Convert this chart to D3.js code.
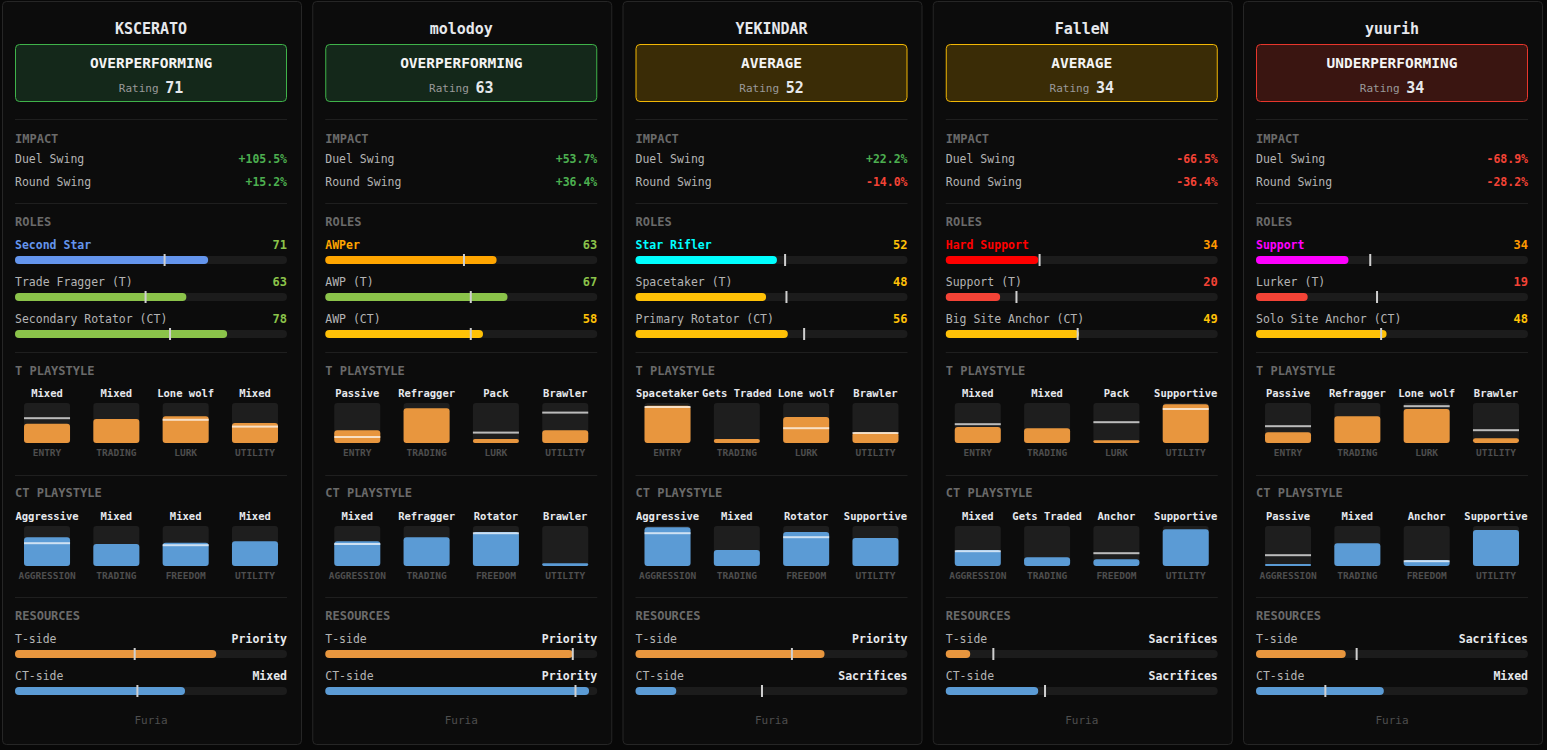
<!DOCTYPE html>
<html>
<head>
<meta charset="utf-8">
<script src="https://cdn.jsdelivr.net/npm/d3@7"></script>
<style>
  body { margin: 0; background: #080808; }
  svg { display: block; font-family: "DejaVu Sans Mono", monospace; }
</style>
</head>
<body>
<svg></svg>
<script>
var players = ["KSCERATO", "molodoy", "YEKINDAR", "FalleN", "yuurih"];
var team = "Furia";
var statuses = ["OVERPERFORMING", "OVERPERFORMING", "AVERAGE", "AVERAGE", "UNDERPERFORMING"];
var ratings = [71, 63, 52, 34, 34];
var duelSwing = [105.5, 53.7, 22.2, -66.5, -68.9];
var roundSwing = [15.2, 36.4, -14.0, -36.4, -28.2];

var roleNames = [
    ["Second Star", "Trade Fragger (T)", "Secondary Rotator (CT)"],
    ["AWPer", "AWP (T)", "AWP (CT)"],
    ["Star Rifler", "Spacetaker (T)", "Primary Rotator (CT)"],
    ["Hard Support", "Support (T)", "Big Site Anchor (CT)"],
    ["Support", "Lurker (T)", "Solo Site Anchor (CT)"]
];
var roleScores = [[71, 63, 78], [63, 67, 58], [52, 48, 56], [34, 20, 49], [34, 19, 48]];
var roleAvg = [[55, 48, 57], [51, 53.5, 53.5], [55, 55.5, 62], [34.5, 26, 48.5], [42, 44.5, 46]];

var tAxes = ["ENTRY", "TRADING", "LURK", "UTILITY"];
var ctAxes = ["AGGRESSION", "TRADING", "FREEDOM", "UTILITY"];

var tStyleLabels = [
    ["Mixed", "Mixed", "Lone wolf", "Mixed"],
    ["Passive", "Refragger", "Pack", "Brawler"],
    ["Spacetaker", "Gets Traded", "Lone wolf", "Brawler"],
    ["Mixed", "Mixed", "Pack", "Supportive"],
    ["Passive", "Refragger", "Lone wolf", "Brawler"]
];
var tStyleValues = [[48, 60, 67, 50], [32, 87, 10, 32], [93, 10, 65, 27], [40, 37, 7, 97], [27, 67, 85, 12]];
var tStyleAvg = [[62, null, 58, 41], [15, null, 26, 76], [90, null, 37, 25], [47, null, 52, 85], [42, null, 92, 32]];

var ctStyleLabels = [
    ["Aggressive", "Mixed", "Mixed", "Mixed"],
    ["Mixed", "Refragger", "Rotator", "Brawler"],
    ["Aggressive", "Mixed", "Rotator", "Supportive"],
    ["Mixed", "Gets Traded", "Anchor", "Supportive"],
    ["Passive", "Mixed", "Anchor", "Supportive"]
];
var ctStyleValues = [[72, 55, 58, 62], [62, 72, 85, 7], [97, 40, 85, 70], [40, 22, 17, 92], [5, 57, 15, 90]];
var ctStyleAvg = [[57, null, 52, null], [55, null, 82, null], [82, null, 72, null], [37, null, 32, null], [27, null, 12, null]];

var tResource = [74, 91, 69.5, 9, 33];
var tResourceAvg = [44, 91, 57.5, 17.5, 37];
var tResourceLabel = ["Priority", "Priority", "Priority", "Sacrifices", "Sacrifices"];
var ctResource = [62.5, 97, 15, 34, 47];
var ctResourceAvg = [45, 92, 46.5, 36.5, 25.5];
var ctResourceLabel = ["Mixed", "Priority", "Sacrifices", "Sacrifices", "Mixed"];

// styling
var statusStyle = {
    "OVERPERFORMING": { bg: "#14281a", stroke: "#3fb34a" },
    "AVERAGE": { bg: "#3a2c06", stroke: "#f2b705" },
    "UNDERPERFORMING": { bg: "#3a1511", stroke: "#e8362c" }
};
var primaryColor = {
    "Second Star": "#6495ed",
    "AWPer": "#ffa500",
    "Star Rifler": "#00ffff",
    "Hard Support": "#ff0000",
    "Support": "#ff00ff"
};
function scoreColor(v) {
    if (v >= 60) return "#8bc34a";
    if (v >= 40) return "#ffc107";
    if (v >= 30) return "#ff9800";
    return "#f44336";
}
function pct(v) {
    return (v >= 0 ? "+" : "-") + Math.abs(v).toFixed(1) + "%";
}

var W = 1547, H = 750,
    pad = 13, innerW = 272,
    tOrange = "#e8963e", ctBlue = "#5b9bd5",
    light = "#e6e8ec", muted = "#b4b4b4", dim = "#6a6a6a", faint = "#4e4e4e";

var svg = d3.select("svg").attr("width", W).attr("height", H);

var cardX = d3.scaleBand()
    .domain(d3.range(players.length))
    .range([2, 1543])
    .paddingInner(10.25 / 310.25);
var cardW = cardX.bandwidth();

var barX = d3.scaleLinear().domain([0, 100]).range([0, innerW]);
var boxX = d3.scaleBand().domain(d3.range(4)).range([0, innerW])
    .paddingInner(0.336).paddingOuter(0.13);
var boxH = 40;
var boxY = d3.scaleLinear().domain([0, 100]).range([boxH, 0]);

var cards = svg.selectAll("g.card")
    .data(players)
    .enter()
    .append("g")
    .attr("class", "card")
    .attr("transform", function(d, i) { return "translate(" + cardX(i) + ",0)"; });

cards.append("rect")
    .attr("x", 0.5).attr("y", 1.5)
    .attr("width", cardW - 1).attr("height", 743)
    .attr("rx", 4)
    .attr("fill", "#0c0c0c")
    .attr("stroke", "#262626");

function txt(g, x, y, s, size, color, weight, anchor) {
    return g.append("text")
        .attr("x", x).attr("y", y)
        .attr("dominant-baseline", "central")
        .attr("font-size", size)
        .attr("font-weight", weight || "normal")
        .attr("fill", color)
        .attr("text-anchor", anchor || "start")
        .text(s);
}

function hbar(g, y, value, avg, color) {
    g.append("rect")
        .attr("x", pad).attr("y", y).attr("width", innerW).attr("height", 8)
        .attr("rx", 4).attr("fill", "#1c1c1c");
    g.append("rect")
        .attr("x", pad).attr("y", y).attr("width", barX(value)).attr("height", 8)
        .attr("rx", 4).attr("fill", color);
    g.append("rect")
        .attr("x", pad + barX(avg) - 1).attr("y", y - 2).attr("width", 2).attr("height", 12)
        .attr("fill", "#d0d0d0");
}

function boxes(g, y, labels, values, avgs, axes, color) {
    var rows = values.map(function(v, j) {
        return { v: v, avg: avgs[j], label: labels[j], axis: axes[j], j: j };
    });
    var cols = g.selectAll(null)
        .data(rows)
        .enter()
        .append("g")
        .attr("transform", function(d) { return "translate(" + (pad + boxX(d.j)) + "," + y + ")"; });
    var bw = boxX.bandwidth();
    cols.append("rect")
        .attr("width", bw).attr("height", boxH).attr("rx", 3)
        .attr("fill", "#1e1e1e");
    cols.append("rect")
        .attr("y", function(d) { return boxY(d.v); })
        .attr("width", bw)
        .attr("height", function(d) { return boxH - boxY(d.v); })
        .attr("rx", function(d) { return Math.min(3, (boxH - boxY(d.v)) / 2); })
        .attr("fill", color);
    cols.filter(function(d) { return d.avg != null; })
        .append("rect")
        .attr("y", function(d) { return boxY(d.avg) - 1; })
        .attr("width", bw).attr("height", 2)
        .attr("fill", "#ffffff").attr("fill-opacity", 0.7);
    cols.append("text")
        .attr("x", bw / 2).attr("y", -10)
        .attr("dominant-baseline", "central")
        .attr("text-anchor", "middle")
        .attr("font-size", 10.5).attr("font-weight", "bold")
        .attr("fill", light)
        .text(function(d) { return d.label; });
    cols.append("text")
        .attr("x", bw / 2).attr("y", boxH + 9.5)
        .attr("dominant-baseline", "central")
        .attr("text-anchor", "middle")
        .attr("font-size", 9.5).attr("font-weight", "bold")
        .attr("fill", faint)
        .text(function(d) { return d.axis; });
}

cards.each(function(name, i) {
    var g = d3.select(this);
    var cx = pad + innerW / 2;
    var st = statusStyle[statuses[i]];

    txt(g, cx, 28.5, name, 15, light, "bold", "middle");

    g.append("rect")
        .attr("x", pad + 0.5).attr("y", 44.5)
        .attr("width", innerW - 1).attr("height", 57)
        .attr("rx", 4)
        .attr("fill", st.bg).attr("stroke", st.stroke);
    txt(g, cx, 62.5, statuses[i], 14.5, "#f4f4f4", "bold", "middle");
    var r = txt(g, cx, 87.5, "", 11, "#9a9a9a", "normal", "middle");
    r.append("tspan").text("Rating ");
    r.append("tspan").attr("font-size", 15).attr("font-weight", "bold").attr("fill", light).text(ratings[i]);

    [119, 203, 352, 475, 597].forEach(function(y) {
        g.append("line")
            .attr("x1", pad).attr("x2", pad + innerW)
            .attr("y1", y + 0.5).attr("y2", y + 0.5)
            .attr("stroke", "#1f1f1f");
    });

    // impact
    txt(g, pad, 138.5, "IMPACT", 12, dim, "bold");
    txt(g, pad, 158.5, "Duel Swing", 11.5, muted);
    txt(g, pad + innerW, 158.5, pct(duelSwing[i]), 11.5, duelSwing[i] >= 0 ? "#4caf50" : "#f44336", "bold", "end");
    txt(g, pad, 181.5, "Round Swing", 11.5, muted);
    txt(g, pad + innerW, 181.5, pct(roundSwing[i]), 11.5, roundSwing[i] >= 0 ? "#4caf50" : "#f44336", "bold", "end");

    // roles
    txt(g, pad, 221.5, "ROLES", 12, dim, "bold");
    roleNames[i].forEach(function(role, k) {
        var y = 244.5 + k * 37;
        var col = k === 0 ? primaryColor[role] : scoreColor(roleScores[i][k]);
        txt(g, pad, y, role, 11.5, k === 0 ? col : muted, k === 0 ? "bold" : "normal");
        txt(g, pad + innerW, y, roleScores[i][k], 12, scoreColor(roleScores[i][k]), "bold", "end");
        hbar(g, 256 + k * 37, roleScores[i][k], roleAvg[i][k], col);
    });

    // playstyles
    txt(g, pad, 370.5, "T PLAYSTYLE", 12, dim, "bold");
    boxes(g, 403, tStyleLabels[i], tStyleValues[i], tStyleAvg[i], tAxes, tOrange);
    txt(g, pad, 492.5, "CT PLAYSTYLE", 12, dim, "bold");
    boxes(g, 526, ctStyleLabels[i], ctStyleValues[i], ctStyleAvg[i], ctAxes, ctBlue);

    // resources
    txt(g, pad, 615.5, "RESOURCES", 12, dim, "bold");
    txt(g, pad, 638.5, "T-side", 11.5, muted);
    txt(g, pad + innerW, 638.5, tResourceLabel[i], 11.5, light, "bold", "end");
    hbar(g, 650, tResource[i], tResourceAvg[i], tOrange);
    txt(g, pad, 675.5, "CT-side", 11.5, muted);
    txt(g, pad + innerW, 675.5, ctResourceLabel[i], 11.5, light, "bold", "end");
    hbar(g, 687, ctResource[i], ctResourceAvg[i], ctBlue);

    txt(g, cx, 720.5, team, 11, faint, "normal", "middle");
});
</script>
</body>
</html>
